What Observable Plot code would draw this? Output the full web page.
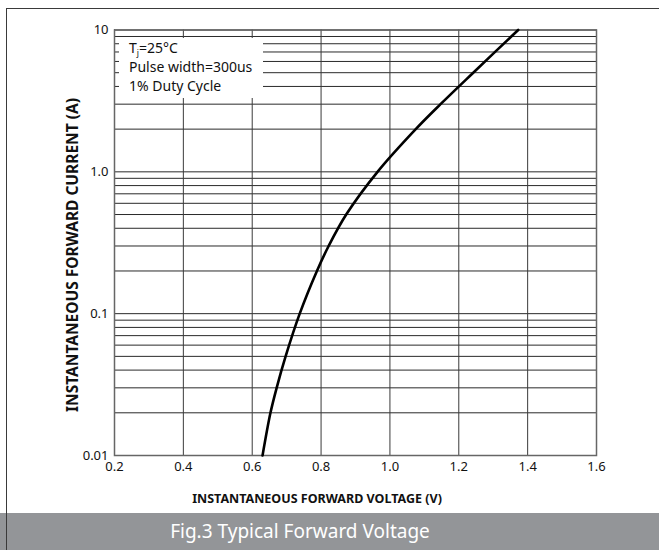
<!DOCTYPE html>
<html>
<head>
<meta charset="utf-8">
<script src="https://cdn.jsdelivr.net/npm/d3@7"></script>
<script src="https://cdn.jsdelivr.net/npm/@observablehq/plot@0.6"></script>
<style>
  html, body { margin: 0; padding: 0; background: #fff; }
  #wrap { position: relative; width: 659px; height: 550px; overflow: hidden; font-family: "Noto Sans", sans-serif; }
  #plot { position: absolute; left: 0; top: 0; }
  #border { position: absolute; left: 6px; top: 8px; right: -10px; bottom: -10px; border-left: 1.5px solid #3a3a3a; border-top: 1.5px solid #3a3a3a; }
  #caption { position: absolute; left: 0; top: 513px; width: 659px; height: 37px; background: #939598; }
  #caption span { position: absolute; left: 300px; top: 18px; transform: translate(-50%, -50%); color: #fff; font-size: 19px; white-space: nowrap; }
  #xtitle { position: absolute; left: 317px; top: 498px; transform: translate(-50%, -50%); font-weight: bold; font-size: 12.5px; white-space: nowrap; color: #111; }
  #ytitle { position: absolute; left: 72px; top: 255px; transform: translate(-50%, -50%) rotate(-90deg); font-weight: bold; font-size: 15.5px; white-space: nowrap; color: #111; }
  #legend { position: absolute; left: 119px; top: 38px; width: 144px; height: 60px; background: #fff; font-size: 14px; color: #111; }
  #legend div { position: absolute; left: 10px; white-space: nowrap; line-height: 1; }
  #legend sub { font-size: 8.5px; vertical-align: -3px; }
</style>
</head>
<body>
<div id="wrap">
  <div id="plot"></div>
  <div id="legend">
    <div style="top:3px">T<sub>j</sub>=25°C</div>
    <div style="top:21.5px">Pulse width=300us</div>
    <div style="top:40.5px">1% Duty Cycle</div>
  </div>
  <div id="xtitle">INSTANTANEOUS FORWARD VOLTAGE (V)</div>
  <div id="ytitle">INSTANTANEOUS FORWARD CURRENT (A)</div>
  <div id="caption"><span>Fig.3 Typical Forward Voltage</span></div>
  <div id="border"></div>
</div>
<script>
// Forward voltage (V) at each current (A)
const current = [0.01, 0.02, 0.03, 0.05, 0.1, 0.2, 0.3, 0.5, 1, 2, 3, 5, 10];
const voltage = [0.630, 0.653, 0.671, 0.697, 0.738, 0.788, 0.822, 0.873, 0.964, 1.075, 1.147, 1.242, 1.3725];

const xTicks = [0.2, 0.4, 0.6, 0.8, 1.0, 1.2, 1.4, 1.6];
const yTicks = [0.01, 0.1, 1, 10];
const yTickLabels = ["0.01", "0.1", "1.0", "10"];
const yGrid = [1,2,3,4,5,6,7,8,9].flatMap(m => [0.01, 0.1, 1].map(d => +(m * d).toPrecision(3))).concat([10]);

const curve = voltage.map((v, i) => ({v, i: current[i]}));

const chart = Plot.plot({
  width: 659,
  height: 512,
  marginLeft: 114,
  marginRight: 63,
  marginTop: 29.5,
  marginBottom: 57,
  style: {fontFamily: "Noto Sans, sans-serif", fontSize: "13px", color: "#111", background: "transparent"},
  x: {domain: [0.2, 1.6]},
  y: {type: "log", domain: [0.01, 10]},
  marks: [
    Plot.ruleY(yGrid, {stroke: "#2a2a2a", strokeWidth: 1}),
    Plot.ruleX(xTicks, {stroke: "#3a3a3a", strokeWidth: 1}),
    Plot.frame({stroke: "#666", strokeWidth: 1.5}),
    Plot.line(curve, {x: "v", y: "i", stroke: "#000", strokeWidth: 2.6, curve: "catmull-rom"}),
    Plot.axisX({ticks: xTicks, tickFormat: d3.format(".1f"), tickSize: 0, tickPadding: 6, label: null, fontSize: 13}),
    Plot.axisY({ticks: yTicks, tickFormat: (d) => yTickLabels[yTicks.indexOf(d)], tickSize: 0, tickPadding: 6, label: null, fontSize: 13})
  ]
});
document.getElementById("plot").appendChild(chart);
</script>
</body>
</html>
